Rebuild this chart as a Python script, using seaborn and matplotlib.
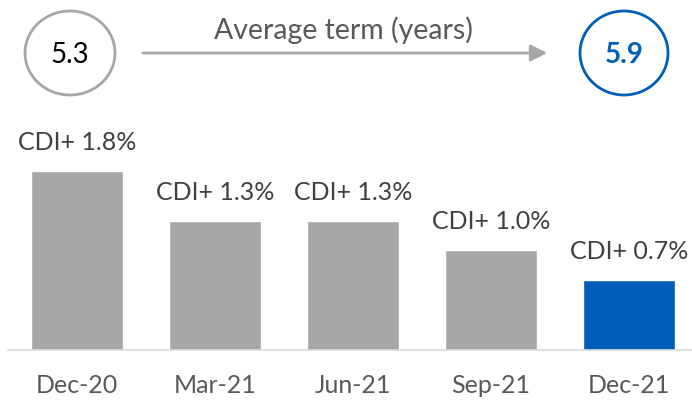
import matplotlib
matplotlib.use("Agg")
import matplotlib.pyplot as plt
import seaborn as sns
import pandas as pd
from matplotlib.patches import Ellipse, FancyArrowPatch

periods = ["Dec-20", "Mar-21", "Jun-21", "Sep-21", "Dec-21"]
spread = [1.8, 1.3, 1.3, 1.0, 0.7]
bar_labels = ["CDI+ 1.8%", "CDI+ 1.3%", "CDI+ 1.3%", "CDI+ 1.0%", "CDI+ 0.7%"]
term_start = "5.3"
term_end = "5.9"
term_title = "Average term (years)"

GRAY = "#A6A6A6"
BLUE = "#005EB8"
colors = [GRAY, GRAY, GRAY, GRAY, BLUE]

sns.set_theme(style="white")
plt.rcParams["font.family"] = ["Lato", "DejaVu Sans"]

df = pd.DataFrame({"period": periods, "spread": spread})

fig = plt.figure(figsize=(6.92, 4.0), dpi=100)
ax = fig.add_axes([8/692, 50/400, 684/692, 250/400])
sns.barplot(data=df, x="period", y="spread", hue="period", palette=colors,
            width=0.67, legend=False, ax=ax, saturation=1)
ax.set_xlim(-0.5, 4.457)
ax.set_ylim(0, 2.51)
for i, (v, lab) in enumerate(zip(spread, bar_labels)):
    ax.text(i, v + 0.17, lab, ha="center", va="bottom", fontsize=18, color="#404040")
ax.set_xlabel("")
ax.set_ylabel("")
ax.set_yticks([])
ax.tick_params(axis="x", length=0, pad=17, labelsize=18, labelcolor="#595959")
for s in ["top", "left", "right"]:
    ax.spines[s].set_visible(False)
ax.spines["bottom"].set_color("#D9D9D9")
ax.spines["bottom"].set_linewidth(1.2)

ov = fig.add_axes([0, 0, 1, 1], facecolor="none")
ov.set_xlim(0, 692)
ov.set_ylim(400, 0)
ov.axis("off")
ov.add_patch(Ellipse((70, 53), 90, 84, fill=False, edgecolor=GRAY, lw=2))
ov.add_patch(Ellipse((624, 53), 88, 84, fill=False, edgecolor=BLUE, lw=2))
ov.text(70, 55, term_start, ha="center", va="center", fontsize=20, color="#000000")
ov.text(624, 55, term_end, ha="center", va="center", fontsize=20, color=BLUE, fontweight="bold")
ov.add_patch(FancyArrowPatch((140, 53), (550, 53), arrowstyle="-|>,head_length=10,head_width=5",
                             color=GRAY, lw=2, mutation_scale=1))
ov.text(343, 30, term_title, ha="center", va="center", fontsize=20.5, color="#595959")

fig.savefig("out.png", dpi=100)
